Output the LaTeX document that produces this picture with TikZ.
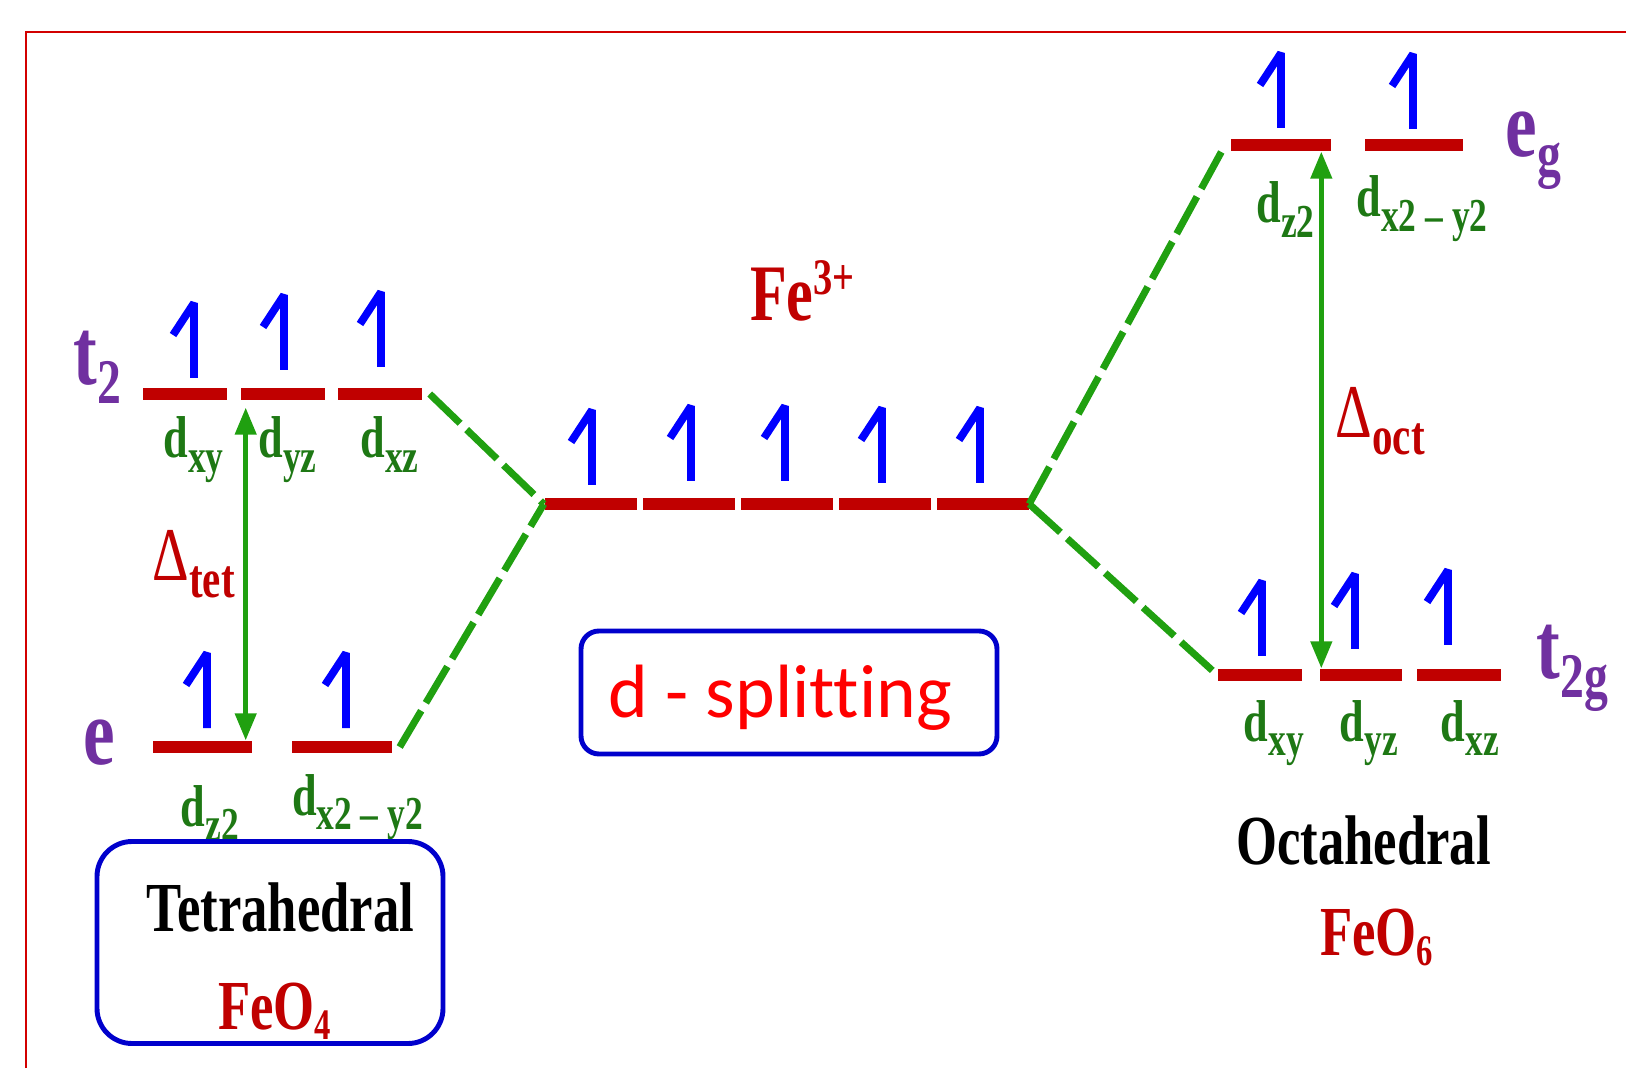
\documentclass[tikz,border=0pt]{standalone}
\usepackage{fontspec}
\usepackage{graphicx}
\usetikzlibrary{arrows.meta, positioning}

\newfontfamily\timesc[FakeStretch=0.75]{Liberation Serif}
\newfontfamily\calib[Ligatures=NoCommon]{Carlito}

\definecolor{barred}{RGB}{192,0,0}
\definecolor{spinblue}{RGB}{0,0,255}
\definecolor{grpurple}{RGB}{112,48,160}
\definecolor{dgreen}{RGB}{30,120,20}
\definecolor{lgreen}{RGB}{32,160,16}
\definecolor{boxblue}{RGB}{0,0,204}
\definecolor{framered}{RGB}{210,0,0}

\newcommand{\subr}[3]{\raisebox{-#2em}{\scalebox{#1}{#3}}}
\newcommand{\supr}[3]{\raisebox{#2em}{\scalebox{#1}{#3}}}

\tikzset{spin/.pic={\draw[spinblue, line width=2.2pt, line join=bevel] (0,0) -- (0,0.75) -- (-0.21,0.43);}}

\begin{document}
\begin{tikzpicture}[%
        orb/.style={rectangle, fill=barred, minimum width=#1, minimum height=0.12cm, inner sep=0pt},
        orb/.default=0.84cm,
        dlab/.style={font=\timesc\bfseries\fontsize{16.8}{18}\selectfont, text=dgreen, anchor=base, inner sep=0pt},
        grp/.style={font=\timesc\bfseries\fontsize{27}{29}\selectfont, text=grpurple, anchor=base west, inner sep=0pt},
        title/.style={font=\timesc\bfseries\fontsize{20}{22}\selectfont, anchor=base, inner sep=0pt},
        gapl/.style={font=\timesc\fontsize{21.6}{24}\selectfont, text=barred, anchor=base west, inner sep=0pt},
        link/.style={lgreen, line width=2pt, dash pattern=on 12pt off 2.6pt},
        gap/.style={{Triangle[length=0.27cm,width=0.21cm]}-{Triangle[length=0.27cm,width=0.21cm]}, line width=1.3pt, lgreen},
        roundbox/.style={draw=boxblue, line width=1.4pt, inner sep=0pt}%
    ]
        \useasboundingbox (0,0) rectangle (16.26,10.68);
        \draw[framered, line width=0.6pt] (0.26,0) -- (0.26,10.36) -- (16.26,10.36);

        % tetrahedral
        \node[orb] (t2a) at (1.845,6.74) {};
        \node[orb] (t2b) at (2.825,6.74) {};
        \node[orb] (t2c) at (3.80,6.74) {};
        \node[orb=0.99cm] (e1) at (2.025,3.21) {};
        \node[orb=1.0cm] (e2) at (3.42,3.21) {};

        % free ion
        \foreach \i/\x in {1/5.905,2/6.885,3/7.865,4/8.845,5/9.825}
            \node[orb=0.92cm] (c\i) at (\x,5.64) {};

        % octahedral
        \node[orb=1.0cm] (eg1) at (12.81,9.23) {};
        \node[orb=0.98cm] (eg2) at (14.14,9.23) {};
        \node[orb] (g1) at (12.60,3.93) {};
        \node[orb=0.82cm] (g2) at (13.61,3.93) {};
        \node[orb] (g3) at (14.585,3.93) {};

        \foreach \x/\y in {1.94/6.90, 2.84/6.98, 3.81/7.01, 2.07/3.40, 3.46/3.40,
                           5.92/5.83, 6.91/5.87, 7.85/5.87, 8.82/5.85, 9.80/5.85,
                           12.81/9.40, 14.13/9.39, 12.62/4.12, 13.55/4.19, 14.48/4.23}
            \pic at (\x,\y) {spin};

        \node[grp] (t2) at (0.73,6.83) {t\subr{0.67}{0.2}{2}};
        \node[grp] (e) at (0.83,3.04) {e};
        \node[grp] (eg) at (15.05,9.11) {e\subr{0.67}{0.2}{g}};
        \node[grp] (t2g) at (15.36,3.89) {t\subr{0.67}{0.2}{2g}};

        \node[dlab] (txy) at (1.935,6.10) {d\subr{0.8}{0.25}{xy}};
        \node[dlab] (tyz) at (2.875,6.10) {d\subr{0.8}{0.25}{yz}};
        \node[dlab] (txz) at (3.895,6.10) {d\subr{0.8}{0.25}{xz}};
        \node[dlab] (tz2) at (2.10,2.42) {d\subr{0.8}{0.25}{z2}};
        \node[dlab] (tx2) at (3.575,2.53) {d\subr{0.8}{0.25}{x2 – y2}};
        \node[dlab] (oz2) at (12.855,8.45) {d\subr{0.8}{0.25}{z2}};
        \node[dlab] (ox2) at (14.22,8.51) {d\subr{0.8}{0.25}{x2 – y2}};
        \node[dlab] (oxy) at (12.74,3.27) {d\subr{0.8}{0.25}{xy}};
        \node[dlab] (oyz) at (13.69,3.27) {d\subr{0.8}{0.25}{yz}};
        \node[dlab] (oxz) at (14.70,3.27) {d\subr{0.8}{0.25}{xz}};

        \node[gapl] (dtet) at (1.52,4.87) {Δ\subr{0.72}{0.22}{\bfseries tet}};
        \node[gapl] (doct) at (13.35,6.30) {Δ\subr{0.72}{0.22}{\bfseries oct}};

        \node[title, text=barred, font=\timesc\bfseries\fontsize{22.8}{25}\selectfont] (fe) at (8.025,7.47) {Fe\supr{0.64}{0.33}{3+}};

        \node[roundbox, rounded corners=0.35cm, minimum width=3.46cm, minimum height=2.02cm] (tetbox) at (2.70,1.255) {};
        \node[title] (tetname) at (2.805,1.37) {Tetrahedral};
        \node[title, text=barred] (tetform) at (2.745,0.39) {FeO\subr{0.62}{0.15}{4}};
        \node[title] (octname) at (13.635,2.04) {Octahedral};
        \node[title, text=barred] (octform) at (13.765,1.13) {FeO\subr{0.62}{0.15}{6}};

        \node[roundbox, rounded corners=0.18cm, minimum width=4.16cm, minimum height=1.23cm] (splitbox) at (7.89,3.755) {};
        \node[font=\calib\fontsize{21.5}{24}\selectfont, text=red, anchor=base, inner sep=0pt] (split) at (7.805,3.51) {d - splitting};

        \draw[link] ([xshift=0.07cm]t2c.east) -- (c1.west);
        \draw[link] ([xshift=0.07cm]e2.east) -- (c1.west);
        \draw[link] (c5.east) -- ([xshift=-0.09cm,yshift=-0.07cm]eg1.west);
        \draw[link] (c5.east) -- (g1.west);

        \draw[gap] ([xshift=-0.07cm]e1.north east) -- ([xshift=-0.07cm,yshift=-0.07cm]e1.north east |- t2b.south);
        \draw[gap] ([xshift=0.02cm]g2.north west) -- ([xshift=0.02cm]g2.north west |- eg1.south);
\end{tikzpicture}
\end{document}
